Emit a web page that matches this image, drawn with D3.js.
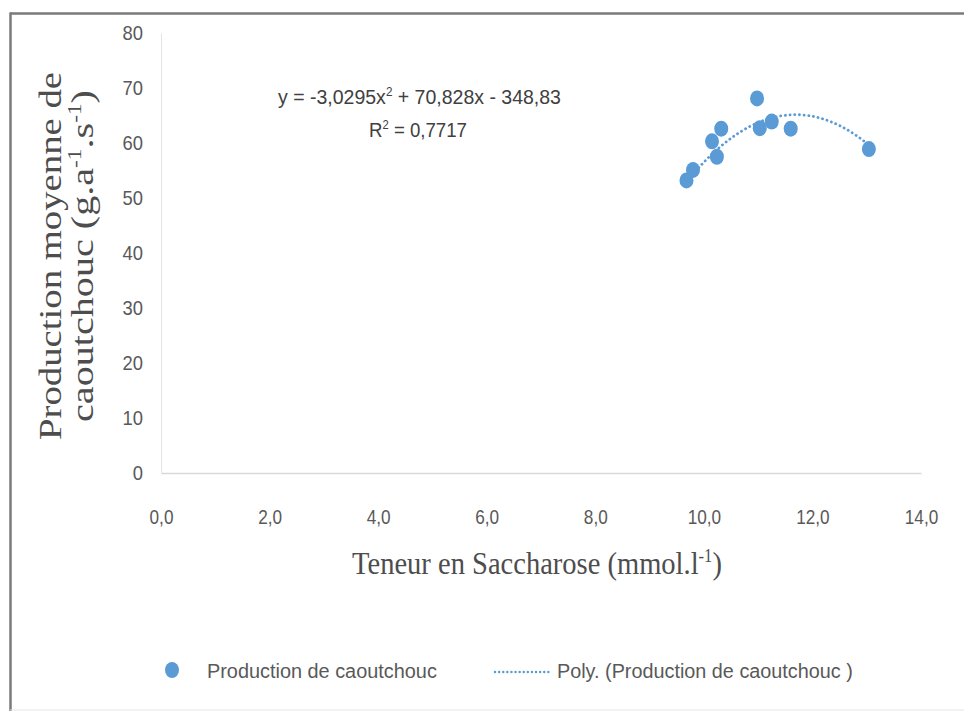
<!DOCTYPE html>
<html>
<head>
<meta charset="utf-8">
<script src="https://cdn.jsdelivr.net/npm/d3@7"></script>
<style>
  html, body { margin: 0; padding: 0; background: #fff; }
  svg { display: block; }
</style>
</head>
<body>
<svg id="chart" width="964" height="711"></svg>
<script>
// Sucrose content (mmol/l) and mean rubber production (g/tree/tapping)
const sucrose = [9.68, 9.80, 10.15, 10.24, 10.32, 10.98, 11.03, 11.25, 11.60, 13.04];
const production = [53.2, 55.1, 60.3, 57.5, 62.6, 68.1, 62.7, 63.9, 62.6, 58.9];

// Polynomial trendline coefficients (a x² + b x + c) and R²
const trendCoef = [-3.0295, 70.828, -348.83];
const rSquared = "0,7717";

const xTicks = [0, 2, 4, 6, 8, 10, 12, 14];
const yTicks = [0, 10, 20, 30, 40, 50, 60, 70, 80];

const seriesName = "Production de caoutchouc";
const trendName = "Poly. (Production de caoutchouc )";

const svg = d3.select("#chart");
const blue = "#5B9BD5";
const sansFont = "'Liberation Sans', Arial, sans-serif";
const titleFont = "'Liberation Serif', 'DejaVu Serif', serif";

// squeeze/stretch a text horizontally about its anchor so it spans `width` px
function fitWidth(sel, width, ax) {
  const node = sel.node();
  const w = node.getBBox().width;
  const s = width / w;
  sel.attr("transform", `translate(${ax},0) scale(${s},1) translate(${-ax},0)`);
}

// chart frame
svg.append("line").attr("x1", 10).attr("x2", 964).attr("y1", 13.5).attr("y2", 13.5)
  .attr("stroke", "#7a7a7a").attr("stroke-width", 2.5);
svg.append("line").attr("x1", 10.5).attr("x2", 10.5).attr("y1", 12.5).attr("y2", 711)
  .attr("stroke", "#7a7a7a").attr("stroke-width", 2.5);
svg.append("line").attr("x1", 10).attr("x2", 964).attr("y1", 710).attr("y2", 710)
  .attr("stroke", "#e6e6e6").attr("stroke-width", 1);

const x = d3.scaleLinear().domain([0, 14]).range([161, 921]);
const y = d3.scaleLinear().domain([0, 80]).range([473, 33]);

// axes
const xAxis = svg.append("g").attr("transform", `translate(0,${y(0)})`)
  .call(d3.axisBottom(x).tickValues(xTicks).tickSize(0).tickPadding(37)
    .tickFormat(d => d.toFixed(1).replace(".", ",")));
const yAxis = svg.append("g").attr("transform", `translate(${x(0)},0)`)
  .call(d3.axisLeft(y).tickValues(yTicks).tickSize(0).tickPadding(18));
[xAxis, yAxis].forEach(g => {
  g.select(".domain").attr("stroke", "#d9d9d9").attr("stroke-width", 1.5);
  g.selectAll("text").attr("fill", "#595959").style("font-family", sansFont).style("font-size", "20px");
});
yAxis.select(".domain").attr("stroke", "#e4e4e4").attr("stroke-width", 1);
xAxis.selectAll("text").attr("transform", "scale(0.86,1)");
yAxis.selectAll("text").attr("transform", "translate(-18,0) scale(0.92,1) translate(18,0)");

// trendline
const xs = d3.extent(sucrose);
const curve = d3.range(0, 101).map(i => {
  const xv = xs[0] + (xs[1] - xs[0]) * i / 100;
  return [xv, trendCoef[0] * xv * xv + trendCoef[1] * xv + trendCoef[2]];
});
svg.append("path").datum(curve)
  .attr("d", d3.line().x(d => x(d[0])).y(d => y(d[1])))
  .attr("fill", "none").attr("stroke", blue).attr("stroke-width", 2.8)
  .attr("stroke-dasharray", "0.1,4.6").attr("stroke-linecap", "round");

// points
svg.append("g").selectAll("ellipse").data(sucrose.map((s, i) => [s, production[i]]))
  .join("ellipse")
  .attr("cx", d => x(d[0])).attr("cy", d => y(d[1]))
  .attr("rx", 7).attr("ry", 8).attr("fill", blue);

// equation label
const fmt = v => Math.abs(v).toString().replace(".", ",");
const eq = svg.append("text").attr("x", 419.5).attr("y", 104).attr("text-anchor", "middle")
  .attr("fill", "#404040").style("font-family", sansFont).style("font-size", "20px");
eq.append("tspan").text(`y = -${fmt(trendCoef[0])}x`);
eq.append("tspan").attr("dy", -8).style("font-size", "12px").text("2");
eq.append("tspan").attr("dy", 8).text(` + ${fmt(trendCoef[1])}x - ${fmt(trendCoef[2])}`);
fitWidth(eq, 283, 419.5);
const r2 = svg.append("text").attr("x", 418).attr("y", 137).attr("text-anchor", "middle")
  .attr("fill", "#404040").style("font-family", sansFont).style("font-size", "20px");
r2.append("tspan").text("R");
r2.append("tspan").attr("dy", -8).style("font-size", "12px").text("2");
r2.append("tspan").attr("dy", 8).text(` = ${rSquared}`);
fitWidth(r2, 98, 418);

// axis titles
const titleColor = "#4d4d4d";
const xt = svg.append("text").attr("x", 537).attr("y", 574).attr("text-anchor", "middle")
  .attr("fill", titleColor).style("font-family", titleFont).style("font-size", "31px");
xt.append("tspan").text("Teneur en Saccharose (mmol.l");
xt.append("tspan").attr("dy", -12).style("font-size", "18px").text("-1");
xt.append("tspan").attr("dy", 12).text(")");
fitWidth(xt, 370, 537);

const yt = svg.append("g").attr("transform", "translate(0,256) rotate(-90)");
const yt1 = yt.append("text").attr("x", 0).attr("y", 61).attr("text-anchor", "middle")
  .attr("fill", titleColor).style("font-family", titleFont).style("font-size", "31px")
  .text("Production moyenne de");
fitWidth(yt1, 368, 0);
const yt2 = yt.append("text").attr("x", 0).attr("y", 93).attr("text-anchor", "middle")
  .attr("fill", titleColor).style("font-family", titleFont).style("font-size", "31px");
yt2.append("tspan").text("caoutchouc (g.a");
yt2.append("tspan").attr("dy", -12).style("font-size", "18px").text("-1");
yt2.append("tspan").attr("dy", 12).text(".s");
yt2.append("tspan").attr("dy", -12).style("font-size", "18px").text("-1");
yt2.append("tspan").attr("dy", 12).text(")");
fitWidth(yt2, 332, 0);

// legend
const lg = svg.append("g");
lg.append("ellipse").attr("cx", 172).attr("cy", 670).attr("rx", 7).attr("ry", 8).attr("fill", blue);
const l1 = lg.append("text").attr("x", 207).attr("y", 678).attr("fill", "#595959")
  .style("font-family", sansFont).style("font-size", "21px").text(seriesName);
fitWidth(l1, 230, 207);
lg.append("line").attr("x1", 495).attr("x2", 551).attr("y1", 672).attr("y2", 672)
  .attr("stroke", blue).attr("stroke-width", 2.4)
  .attr("stroke-dasharray", "0.1,4").attr("stroke-linecap", "round");
const l2 = lg.append("text").attr("x", 557).attr("y", 678).attr("fill", "#595959")
  .style("font-family", sansFont).style("font-size", "21px").text(trendName);
fitWidth(l2, 296, 557);
</script>
</body>
</html>
